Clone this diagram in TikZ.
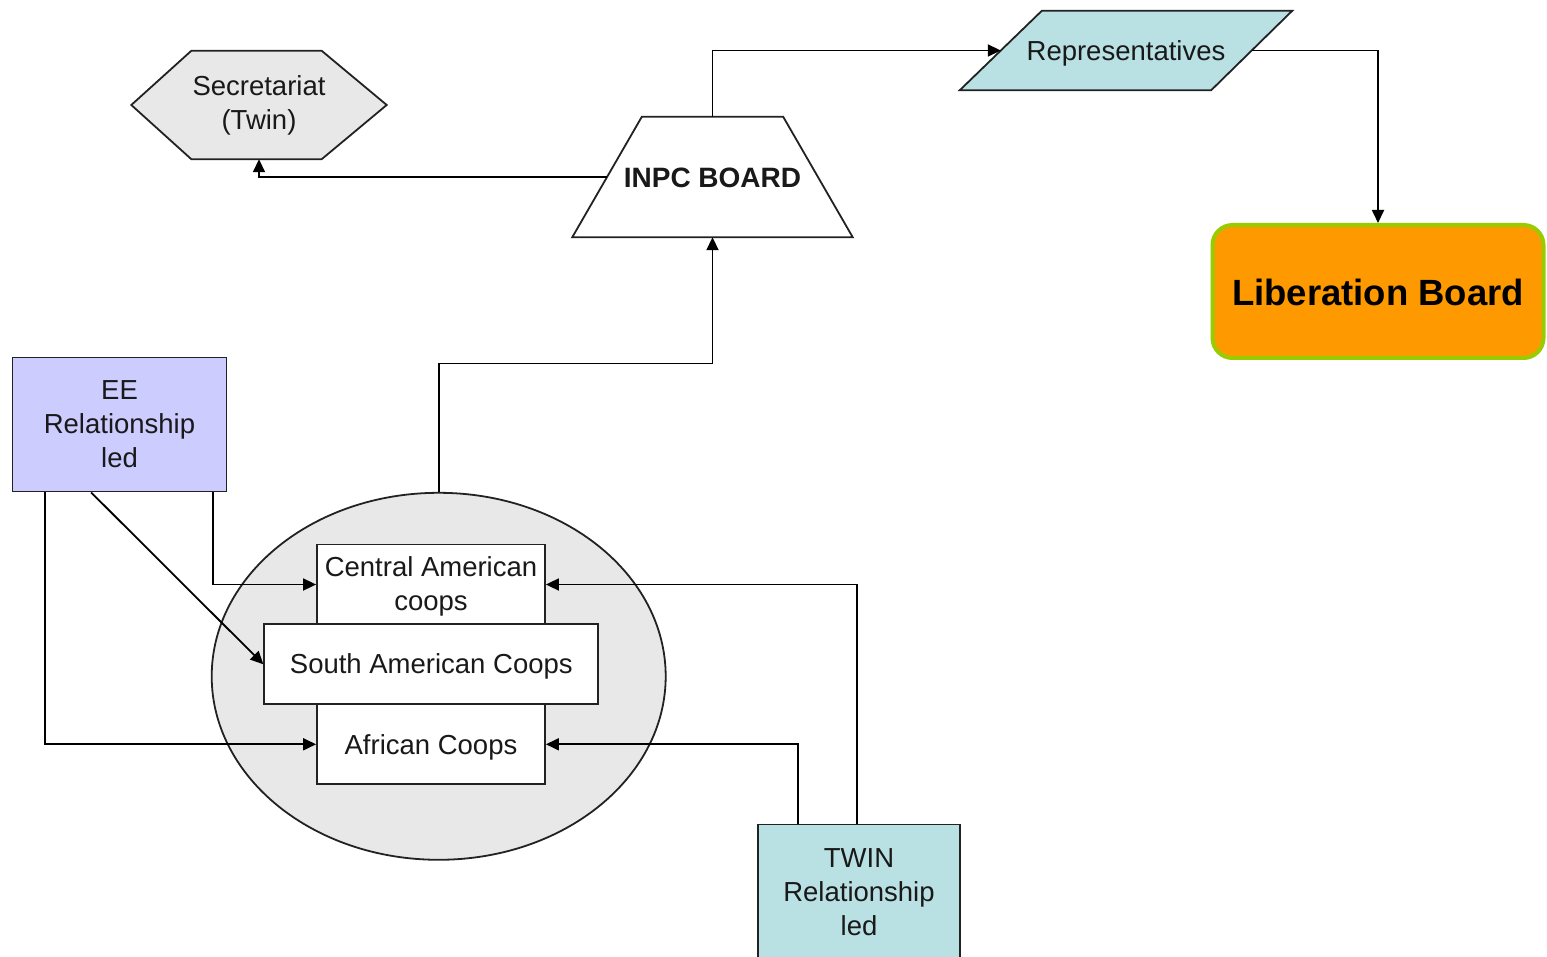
\documentclass[tikz,border=0pt]{standalone}
\usepackage{fontspec}
\setmainfont{Liberation Sans}
\usetikzlibrary{arrows.meta,calc,shapes.geometric,backgrounds}
\definecolor{eeblue}{HTML}{CCCCFF}
\definecolor{teal}{HTML}{B9E0E3}
\definecolor{lgray}{HTML}{E8E8E8}
\definecolor{edge}{HTML}{222222}
\definecolor{libfill}{HTML}{FF9900}
\definecolor{libline}{HTML}{99CC00}
\newcommand{\lowertxt}[2]{\raisebox{-#1}[\height][\depth]{#2}}
\tikzset{
  txt/.style={font=\fontsize{27.5}{34}\selectfont, align=center, inner sep=0pt, text=black!90},
  boxnode/.style={txt, draw=edge, line width=1.8pt, rectangle},
  arr/.style={draw=black, line width=1.8pt, -{Triangle[length=13pt,width=12pt]}},
  shapeline/.style={draw=edge, line width=1.8pt},
}
\begin{document}
\begin{tikzpicture}[x=1pt,y=-1pt]
\useasboundingbox (0,0) rectangle (1547,957);

% ellipse and coops
\node[ellipse, draw=edge, line width=1.8pt, fill=lgray, minimum width=454pt, minimum height=367pt, inner sep=0pt] (coops) at (438.7,676.3) {};
\node[boxnode, fill=white, minimum width=228pt, minimum height=80pt] (central) at (431,584.5) {\lowertxt{2pt}{Central American}\\\lowertxt{2pt}{coops}};
\node[boxnode, fill=white, minimum width=228pt, minimum height=80pt] (african) at (431,744.3) {\lowertxt{3pt}{African Coops}};
\node[boxnode, fill=white, minimum width=334pt, minimum height=80pt] (south) at (431.3,664.3) {\lowertxt{2.5pt}{South American Coops}};

% EE and TWIN boxes
\node[boxnode, fill=eeblue, minimum width=214pt, minimum height=134pt] (ee) at (119.5,424.5) {EE\\Relationship\\led};
\node[boxnode, fill=teal, minimum width=202pt, minimum height=136pt] (twin) at (859,892.5) {TWIN\\Relationship\\led};

% Secretariat hexagon
\node[txt, minimum width=255pt, minimum height=108pt] (sec) at (259,105) {Secretariat\\(Twin)};
\begin{scope}[on background layer]
\draw[shapeline, fill=lgray] (sec.west) -- ($(sec.north west)+(60,0)$) -- ($(sec.north east)+(-65,0)$) -- (sec.east) -- ($(sec.south east)+(-65,0)$) -- ($(sec.south west)+(60,0)$) -- cycle;
\end{scope}

% INPC board trapezoid
\node[txt, font=\fontsize{28}{34}\selectfont\bfseries, minimum width=280pt, minimum height=120pt] (inpc) at (712.5,177) {\lowertxt{1pt}{INPC BOARD}};
\begin{scope}[on background layer]
\draw[shapeline, fill=white] (inpc.south west) -- ($(inpc.north west)+(69.5,0)$) -- ($(inpc.north east)+(-69.5,0)$) -- (inpc.south east) -- cycle;
\end{scope}

% Representatives parallelogram
\node[txt, minimum width=332pt, minimum height=79pt] (rep) at (1126,50.5) {\lowertxt{3pt}{Representatives}};
\begin{scope}[on background layer]
\draw[shapeline, fill=teal] (rep.south west) -- ($(rep.north west)+(82,0)$) -- (rep.north east) -- ($(rep.south east)+(-81,0)$) -- cycle;
\end{scope}

% Liberation Board
\node[txt, text=black, font=\fontsize{36.5}{42}\selectfont\bfseries, draw=libline, line width=4pt, fill=libfill, rounded corners=20pt, minimum width=331pt, minimum height=133pt] (lib) at (1378,291.5) {\lowertxt{1pt}{Liberation Board}};

% anchor points on slanted edges
\coordinate (inpcL) at ($(inpc.west)+(34.75,0)$);
\coordinate (repL) at ($(rep.west)+(41,0)$);
\coordinate (repR) at ($(rep.east)+(-40.5,0)$);

% connectors
\draw[arr] (inpc.north) |- (repL);
\draw[arr] (repR) -| (lib.north);
\draw[arr] (inpcL) -| (sec.south);
\draw[arr] (coops.north) -- ++(0,-128.3) -| (inpc.south);

\draw[arr] ($(ee.south east)+(-14.5,0)$) |- (central.west);
\draw[arr] ($(ee.south west)+(79.5,0)$) -- (south.west);
\draw[arr] ($(ee.south west)+(33.5,0)$) |- (african.west);

\draw[arr] ($(twin.north west)+(100,0)$) |- (central.east);
\draw[arr] ($(twin.north west)+(41,0)$) |- (african.east);
\end{tikzpicture}
\end{document}
